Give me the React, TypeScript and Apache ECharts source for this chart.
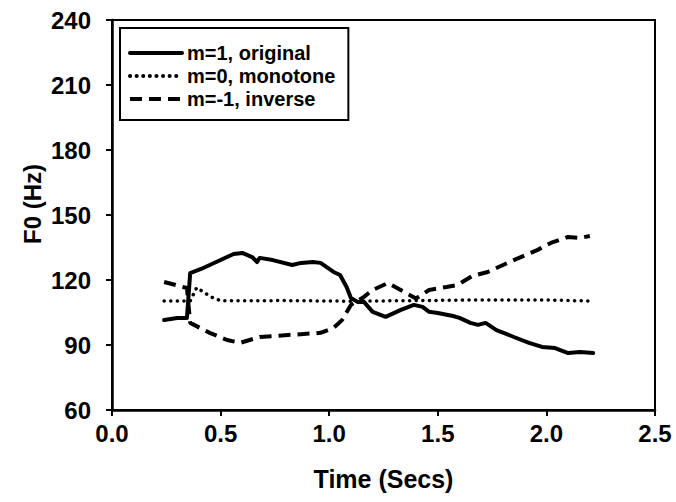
import React, { useEffect, useRef } from "react";
import * as echarts from "echarts";

const xTicks = [0, 0.5, 1.0, 1.5, 2.0, 2.5];
const yTicks = [60, 90, 120, 150, 180, 210, 240];

const origT = [0.24, 0.30, 0.345, 0.36, 0.41, 0.48, 0.56, 0.60, 0.645, 0.668, 0.68, 0.74, 0.83, 0.87, 0.925, 0.96, 1.02, 1.05, 1.08, 1.10, 1.13, 1.16, 1.20, 1.26, 1.33, 1.39, 1.43, 1.46, 1.50, 1.57, 1.60, 1.65, 1.685, 1.72, 1.77, 1.85, 1.92, 1.98, 2.04, 2.10, 2.155, 2.215];
const origF = [101.5, 102.5, 102.5, 123.2, 125.1, 128.3, 132.0, 132.5, 130.6, 128.3, 130.2, 129.2, 126.9, 127.9, 128.3, 127.9, 123.7, 122.3, 116.8, 111.7, 109.9, 109.9, 105.3, 103.0, 106.2, 108.5, 107.6, 105.3, 104.8, 103.4, 102.5, 100.2, 99.3, 100.2, 96.9, 93.7, 91.0, 89.1, 88.6, 86.3, 86.8, 86.3];

const monoT = [0.24, 0.36, 0.39, 0.42, 0.46, 0.50, 0.8, 1.1, 1.4, 1.7, 2.0, 2.2];
const monoF = [110.3, 110.3, 116.5, 114.5, 112.0, 110.4, 110.5, 110.2, 110.5, 110.8, 110.8, 110.3];

const invT = [0.24, 0.345, 0.36, 0.45, 0.53, 0.59, 0.68, 0.81, 0.96, 1.02, 1.06, 1.10, 1.16, 1.20, 1.27, 1.40, 1.46, 1.54, 1.59, 1.66, 1.73, 1.85, 1.96, 2.02, 2.10, 2.155, 2.20];
const invF = [119.1, 116.3, 100.2, 95.6, 92.3, 91.0, 93.7, 94.6, 95.6, 97.9, 101.6, 108.5, 112.2, 115.4, 118.6, 111.5, 115.4, 116.8, 117.7, 121.9, 123.7, 129.2, 133.9, 137.1, 139.9, 139.4, 140.3];

const seriesNames = ["m=1, original", "m=0, monotone", "m=-1, inverse"];

const FONT = '"Liberation Sans", Arial, sans-serif';

function pairs(t: number[], f: number[]) {
  return t.map((v, i) => [v, f[i]]);
}

export default function App() {
  const ref = useRef<HTMLDivElement>(null);
  useEffect(() => {
    if (!ref.current) return;
    const chart = echarts.init(ref.current, null, { renderer: "svg" });
    const axisLine = { show: true, lineStyle: { color: "#000", width: 2.5 } };
    const axisTick = { show: true, inside: false, length: 6, lineStyle: { color: "#000", width: 2 } };
    chart.setOption({
      animation: false,
      backgroundColor: "#fff",
      grid: {
        left: 112,
        right: 21,
        top: 20,
        bottom: 92,
        show: true,
        borderColor: "#000",
        borderWidth: 2,
        backgroundColor: "transparent",
      },
      legend: {
        left: 120,
        top: 28,
        orient: "vertical",
        data: seriesNames,
        itemWidth: 52,
        itemHeight: 20,
        itemGap: 3,
        padding: [15, 13, 11, 8],
        borderColor: "#000",
        borderWidth: 2,
        backgroundColor: "#fff",
        itemStyle: { opacity: 0 },
        lineStyle: { width: 4 },
        textStyle: { fontFamily: FONT, fontWeight: "bold", fontSize: 20, color: "#000" },
      },
      xAxis: {
        type: "value",
        min: xTicks[0],
        max: xTicks[xTicks.length - 1],
        interval: 0.5,
        axisLine,
        axisTick,
        splitLine: { show: false },
        axisLabel: {
          margin: 11,
          color: "#000",
          fontFamily: FONT,
          fontWeight: "bold",
          fontSize: 24,
          formatter: (v: number) => v.toFixed(1),
        },
        name: "Time (Secs)",
        nameLocation: "middle",
        nameGap: 56,
        nameTextStyle: { fontFamily: FONT, fontWeight: "bold", fontSize: 25, color: "#000" },
      },
      yAxis: {
        type: "value",
        min: yTicks[0],
        max: yTicks[yTicks.length - 1],
        interval: 30,
        axisLine,
        axisTick,
        splitLine: { show: false },
        axisLabel: {
          margin: 21,
          color: "#000",
          fontFamily: FONT,
          fontWeight: "bold",
          fontSize: 24,
        },
      },
      graphic: [
        {
          type: "text",
          x: 32,
          y: 204,
          rotation: Math.PI / 2,
          style: {
            text: "F0 (Hz)",
            fontFamily: FONT,
            fontWeight: "bold",
            fontSize: 24,
            fill: "#000",
            textAlign: "center",
            textVerticalAlign: "middle",
          },
        },
      ],
      series: [
        {
          name: seriesNames[0],
          type: "line",
          symbol: "none",
          data: pairs(origT, origF),
          lineStyle: { color: "#000", width: 4, type: "solid", join: "round", cap: "round" },
          itemStyle: { color: "#000" },
        },
        {
          name: seriesNames[1],
          type: "line",
          symbol: "none",
          data: pairs(monoT, monoF),
          lineStyle: { color: "#000", width: 3.5, type: [0.1, 6.5], cap: "round" },
          itemStyle: { color: "#000" },
        },
        {
          name: seriesNames[2],
          type: "line",
          symbol: "none",
          data: pairs(invT, invF),
          lineStyle: { color: "#000", width: 4, type: [12, 7], cap: "butt" },
          itemStyle: { color: "#000" },
        },
      ],
    });
    return () => chart.dispose();
  }, []);
  return (
    <div
      ref={ref}
      style={{ position: "fixed", left: 0, top: 0, width: 676, height: 502, background: "#fff" }}
    />
  );
}
